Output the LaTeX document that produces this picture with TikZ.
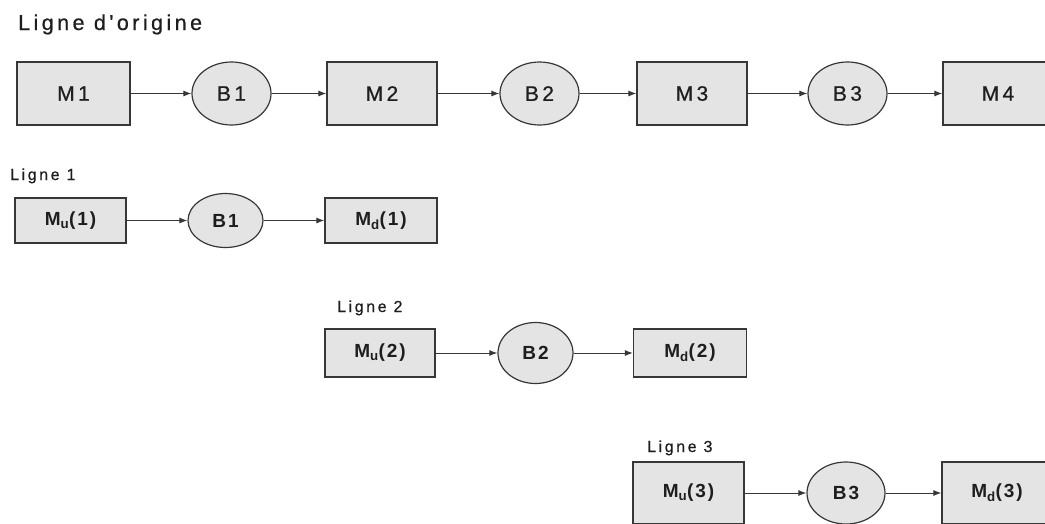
\documentclass[tikz,border=0pt]{standalone}
\usepackage{fontspec}
\setmainfont{Liberation Sans}
\newfontfamily\widefont[LetterSpace=16,FakeBold=0.6]{Liberation Sans}
\newfontfamily\rowfont[LetterSpace=10]{Liberation Sans}
\usetikzlibrary{arrows.meta,shapes.geometric}

\definecolor{boxfill}{RGB}{228,228,228}
\definecolor{edge}{RGB}{55,55,55}
\definecolor{ink}{RGB}{30,30,30}

\tikzset{
  machine/.style={draw=edge, fill=boxfill, line width=1.2pt, inner sep=0pt, text=ink,
    font=\widefont\fontsize{21}{23}\selectfont},
  buffer/.style={ellipse, draw=edge, fill=boxfill, line width=1.2pt, inner sep=0pt, text=ink,
    font=\widefont\fontsize{21}{23}\selectfont},
  small/.style={font=\rowfont\bfseries\fontsize{19}{21}\selectfont},
  flow/.style={draw=edge, line width=1pt, -{Latex[length=8pt,width=6pt]}},
  title/.style={anchor=base west, inner sep=0pt, text=ink, font=\widefont\fontsize{21.5}{23}\selectfont},
  rowlabel/.style={anchor=base west, inner sep=0pt, text=ink, font=\widefont\fontsize{16}{18}\selectfont},
}

\begin{document}
\begin{tikzpicture}[x=1pt,y=-1pt]
\useasboundingbox (0,0) rectangle (1045,523);
\clip (0,0) rectangle (1045,523);

% original line
\node[title] (t0) at (18,30) {Ligne d'origine};
\node[machine, minimum width=113pt, minimum height=63pt] (m1) at (73.5,93.5) {M1};
\node[buffer,  minimum width=79pt,  minimum height=63pt] (b1) at (231.5,93.5) {B1};
\node[machine, minimum width=110pt, minimum height=63pt] (m2) at (382,93.5) {M2};
\node[buffer,  minimum width=79pt,  minimum height=63pt] (b2) at (539.5,93.5) {B2};
\node[machine, minimum width=110pt, minimum height=63pt] (m3) at (692,93.5) {M3};
\node[buffer,  minimum width=79pt,  minimum height=63pt] (b3) at (847.5,93.5) {B3};
\node[machine, minimum width=110pt, minimum height=63pt] (m4) at (998,93.5) {M4};
\draw[flow] (m1) -- (b1);
\draw[flow] (b1) -- (m2);
\draw[flow] (m2) -- (b2);
\draw[flow] (b2) -- (m3);
\draw[flow] (m3) -- (b3);
\draw[flow] (b3) -- (m4);

% line 1
\node[rowlabel] (t1) at (10,180) {Ligne 1};
\node[machine, small, minimum width=111pt, minimum height=45pt] (mu1) at (70.5,220.5) {M\textsubscript{u}(1)};
\node[buffer,  small, minimum width=75pt,  minimum height=54pt] (bb1) at (225.5,220.5) {B1};
\node[machine, small, minimum width=112pt, minimum height=45pt] (md1) at (381,220.5) {M\textsubscript{d}(1)};
\draw[flow] (mu1) -- (bb1);
\draw[flow] (bb1) -- (md1);

% line 2
\node[rowlabel] (t2) at (337,312) {Ligne 2};
\node[machine, small, minimum width=110pt, minimum height=48pt] (mu2) at (380,353) {M\textsubscript{u}(2)};
\node[buffer,  small, minimum width=75pt,  minimum height=61pt] (bb2) at (535.5,353) {B2};
\node[machine, small, minimum width=113pt, minimum height=48pt] (md2) at (690,353) {M\textsubscript{d}(2)};
\draw[flow] (mu2) -- (bb2);
\draw[flow] (bb2) -- (md2);

% line 3
\node[rowlabel] (t3) at (647,452) {Ligne 3};
\node[machine, small, minimum width=111pt, minimum height=62pt] (mu3) at (688.5,493) {M\textsubscript{u}(3)};
\node[buffer,  small, minimum width=78pt,  minimum height=62pt] (bb3) at (846,493) {B3};
\node[machine, small, minimum width=110pt, minimum height=62pt] (md3) at (997,493) {M\textsubscript{d}(3)};
\draw[flow] (mu3) -- (bb3);
\draw[flow] (bb3) -- (md3);
\end{tikzpicture}
\end{document}
